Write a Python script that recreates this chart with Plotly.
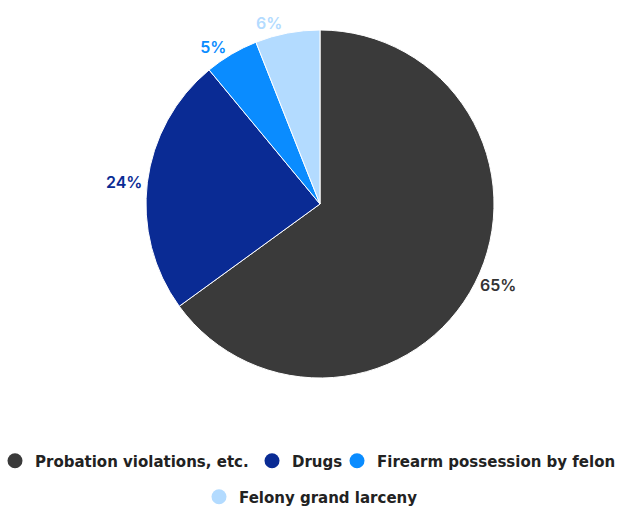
import plotly.graph_objects as go

categories = ["Probation violations, etc.", "Drugs", "Firearm possession by felon", "Felony grand larceny"]
values = [65, 24, 5, 6]
colors = ["#3a3a3a", "#0a2b94", "#0a8cff", "#b3dbff"]
label_colors = ["#333333", "#0a2b94", "#0a8cff", "#b3dbff"]
legend_ids = ["legend", "legend2", "legend3", "legend4"]

fig = go.Figure()
fig.add_trace(go.Pie(
    labels=categories, values=values, sort=False, direction="clockwise", rotation=0,
    marker=dict(colors=colors, line=dict(color="white", width=1)),
    textposition="outside", texttemplate="%{value}%",
    outsidetextfont=dict(color=label_colors, size=16, family="Inter", weight=600),
    showlegend=False, hoverinfo="label+percent",
    domain=dict(x=[146/622, 494/622], y=[1-378/508, 1-30/508]),
))
for c, col, lg in zip(categories, colors, legend_ids):
    fig.add_trace(go.Scatter(x=[None], y=[None], mode="markers", name=c, legend=lg,
                             marker=dict(color=col, size=15, symbol="circle")))

legend_font = dict(family="DejaVu Sans", size=15, color="#222222", weight="bold")
def leg(xpix, ypix):
    return dict(orientation="h", x=xpix/622, xanchor="left", y=1-ypix/508, yanchor="middle",
                font=legend_font, itemsizing="trace", bgcolor="rgba(0,0,0,0)")

fig.update_layout(
    width=622, height=508, margin=dict(l=0, r=0, t=0, b=0, autoexpand=False),
    paper_bgcolor="white", plot_bgcolor="white",
    xaxis=dict(visible=False), yaxis=dict(visible=False),
    legend=leg(-5, 461),
    legend2=leg(252, 461),
    legend3=leg(337, 461),
    legend4=leg(199, 497),
)
fig.write_html("out.html")
